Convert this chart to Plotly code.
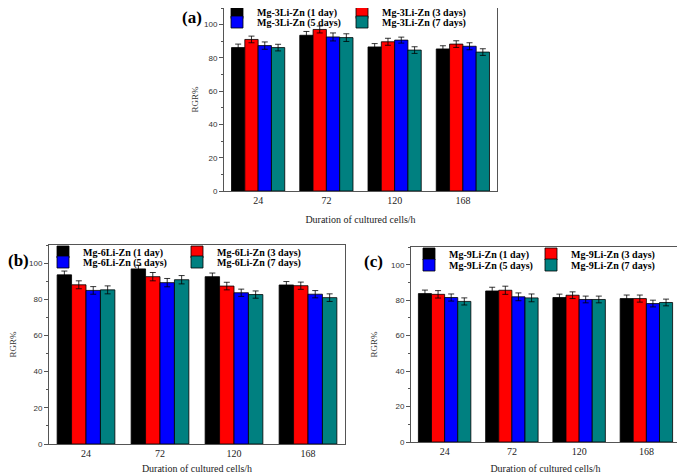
import plotly.graph_objects as go

hours = ["24", "72", "120", "168"]
days = ["1 day", "3 days", "5 days", "7 days"]
colors = ["#000000", "#ff0000", "#0000ff", "#008080"]

# RGR% per alloy, one list per culture time (1, 3, 5, 7 days)
rgr_3li = [
    [86.2, 93.6, 86.6, 85.4],
    [91.1, 97.1, 89.7, 88.3],
    [87.4, 92.6, 90.7, 87.0],
    [86.2, 92.2, 84.7, 83.5],
]
err_3li = [
    [2.1, 2.3, 2.0, 1.9],
    [2.0, 2.1, 2.1, 2.0],
    [2.2, 2.4, 1.8, 2.1],
    [2.0, 2.3, 2.0, 2.0],
]
rgr_6li = [
    [93.5, 96.8, 92.5, 87.9],
    [88.0, 92.5, 87.3, 87.5],
    [84.9, 89.2, 83.6, 82.8],
    [85.2, 90.8, 82.6, 80.9],
]
err_6li = [
    [2.1, 2.0, 2.0, 1.9],
    [2.2, 2.3, 2.1, 2.0],
    [2.1, 2.3, 2.0, 2.0],
    [2.2, 2.3, 2.0, 2.1],
]
rgr_9li = [
    [83.7, 85.2, 81.5, 80.9],
    [83.3, 85.6, 82.8, 80.9],
    [81.5, 81.9, 80.4, 78.1],
    [79.3, 81.3, 80.4, 78.7],
]
err_9li = [
    [2.0, 2.1, 1.9, 2.0],
    [2.1, 2.3, 1.9, 2.0],
    [2.0, 2.2, 1.9, 1.9],
    [2.0, 2.2, 1.9, 1.9],
]

# the page body adds an 8px offset, so the figure is a bit smaller
# and pixel positions below are given in window coordinates
OFF = 8
W, H = 685 - OFF, 474 - OFF


def fx(px):
    return (px - OFF) / W


def fy(py):
    return 1 - (py - OFF) / H


# plot box (x0, x1, ytop, ybottom), tag position,
# legend columns (swatch centre x), legend rows (centre y), y-title standoff
panels = [
    dict(alloy="Mg-3Li-Zn", vals=rgr_3li, errs=err_3li, ax="",
         box=(224, 497, 8, 191), tag="(a)", tagpos=(192, 18),
         cols=(237, 362), rows=(12.5, 22), ystand=3),
    dict(alloy="Mg-6Li-Zn", vals=rgr_6li, errs=err_6li, ax="2",
         box=(49, 345, 245, 444), tag="(b)", tagpos=(18.5, 260),
         cols=(63, 197), rows=(252, 262), ystand=22),
    dict(alloy="Mg-9Li-Zn", vals=rgr_9li, errs=err_9li, ax="3",
         box=(411, 680, 247, 442), tag="(c)", tagpos=(373, 261),
         cols=(429, 551), rows=(254, 265), ystand=11),
]

serif = "Liberation Serif, Times New Roman, serif"
sans = "Liberation Sans, Arial, sans-serif"

fig = go.Figure()
layout = dict(
    width=W, height=H,
    margin=dict(l=0, r=0, t=0, b=0, autoexpand=False),
    paper_bgcolor="white", plot_bgcolor="white",
    barmode="group", bargap=0.22, bargroupgap=0,
    showlegend=True,
)
annotations = []
n = 0
for p in panels:
    ax = p["ax"]
    x0, x1, yt, yb = p["box"]
    for i, day in enumerate(days):
        n += 1
        leg = "legend" if n == 1 else f"legend{n}"
        fig.add_trace(go.Bar(
            x=hours, y=p["vals"][i], name=f"{p['alloy']} ({day})",
            marker=dict(color=colors[i], line=dict(color="#000000", width=0.8)),
            error_y=dict(type="data", array=p["errs"][i], color="#000000",
                         thickness=0.8, width=3),
            xaxis="x" + ax, yaxis="y" + ax, legend=leg,
        ))
        cx = p["cols"][i % 2]
        cy = p["rows"][i // 2]
        layout[leg] = dict(
            orientation="h", x=fx(cx - 20), y=fy(cy),
            xanchor="left", yanchor="middle",
            bgcolor="rgba(0,0,0,0)", borderwidth=0,
            font=dict(family=serif, size=10, color="#000000", weight="bold"),
        )
    layout["xaxis" + ax] = dict(
        domain=[fx(x0), fx(x1)], anchor="y" + ax, automargin=False,
        showline=True, linecolor="#555555", linewidth=1, mirror=True,
        ticks="", tickfont=dict(family=serif, size=10, color="#222222"),
        title=dict(text="Duration of cultured cells/h", standoff=10,
                   font=dict(family=serif, size=10, color="#222222")),
    )
    layout["yaxis" + ax] = dict(
        domain=[fy(yb), fy(yt)], anchor="x" + ax, automargin=False,
        range=[0, 110], tickvals=[0, 20, 40, 60, 80, 100],
        showline=True, linecolor="#555555", linewidth=1, mirror=True,
        showgrid=False, zeroline=False,
        ticks="outside", ticklen=4, tickcolor="#555555",
        minor=dict(dtick=10, ticks="outside", ticklen=2, tickcolor="#555555"),
        tickfont=dict(family=sans, size=8, color="#333333"),
        title=dict(text="RGR%", standoff=p["ystand"],
                   font=dict(family=serif, size=9, color="#333333")),
    )
    tx, ty = p["tagpos"]
    annotations.append(dict(
        text=p["tag"], x=fx(tx), y=fy(ty), xref="paper", yref="paper",
        showarrow=False, xanchor="center", yanchor="middle",
        font=dict(family=serif, size=17, color="#000000", weight="bold"),
    ))

layout["annotations"] = annotations
fig.update_layout(**layout)
fig.write_html("out.html")
